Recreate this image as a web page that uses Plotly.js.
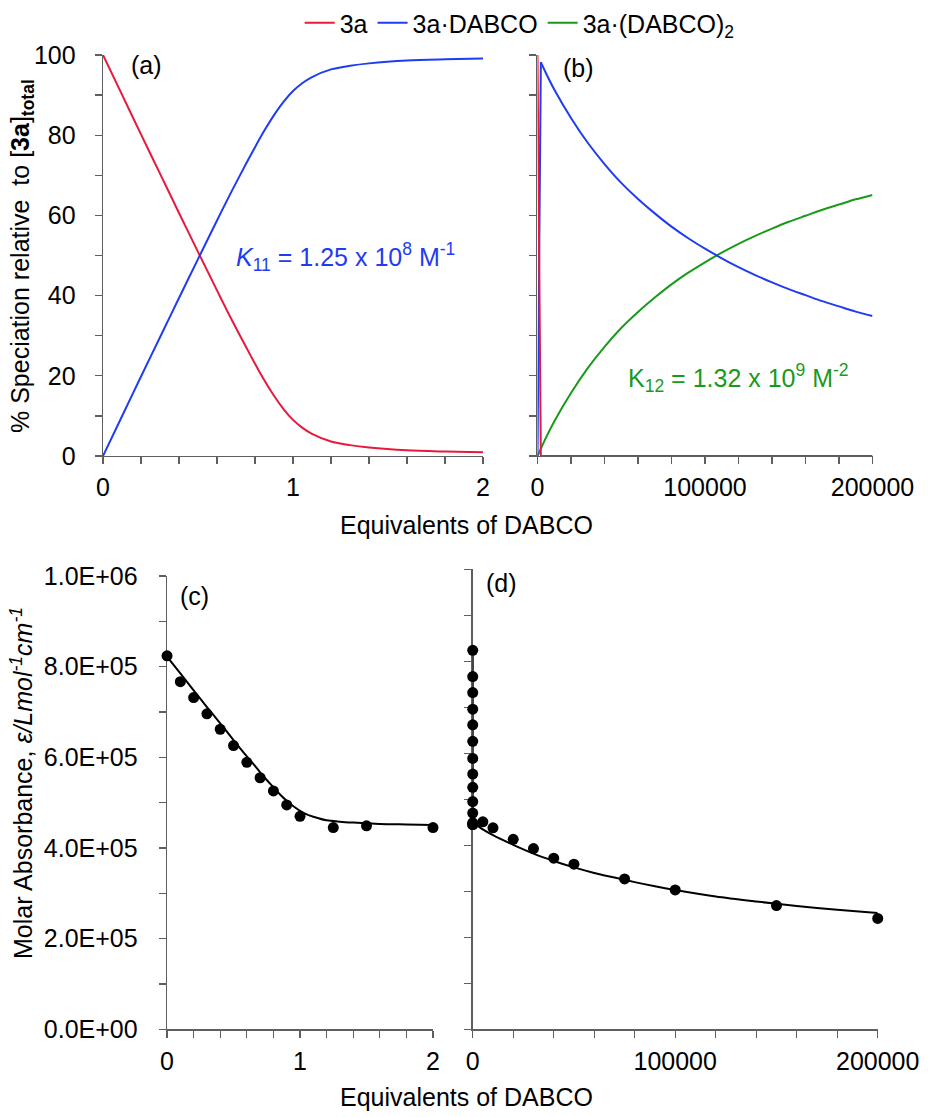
<!DOCTYPE html>
<html>
<head>
<meta charset="utf-8">
<script src="https://cdn.plot.ly/plotly-3.0.1.min.js"></script>
<style>html,body{margin:0;padding:0;background:#fff;}#chart{width:928px;height:1117px;}</style>
</head>
<body>
<div id="chart"></div>
<script>
// ---- Panel (a): speciation vs equivalents (0-2) ----
const eqA = [0,0.1,0.2,0.3,0.4,0.5,0.6,0.65,0.7,0.75,0.8,0.85,0.9,0.95,1.0,1.05,1.1,1.2,1.3,1.4,1.6,1.8,2.0];
const freeA = [100,90.1,80.2,70.4,60.6,50.9,41.3,36.5,31.9,27.4,23.0,18.8,15.0,11.7,9.0,7.0,5.5,3.6,2.7,2.1,1.4,1.1,0.9];
const complexA = [0,9.9,19.8,29.6,39.4,49.1,58.7,63.5,68.1,72.6,77.0,81.2,85.0,88.3,91.0,93.0,94.5,96.4,97.3,97.9,98.6,98.9,99.1];

// ---- Panel (b): speciation vs equivalents (0-200000) ----
const eqB = [0,2000,5000,10000,20000,30000,40000,50000,60000,70000,80000,90000,100000,110000,120000,130000,140000,150000,160000,170000,180000,190000,200000];
const freeB = [100,0,0,0,0,0,0,0,0,0,0,0,0,0,0,0,0,0,0,0,0,0,0];
const complexB = [0,98.2,95.5,91.4,84.3,78.1,72.8,68.1,64.1,60.5,57.2,54.3,51.7,49.3,47.1,45.1,43.3,41.6,40.1,38.6,37.3,36.0,34.9];
const complex2B = [0,1.8,4.5,8.6,15.7,21.9,27.2,31.9,35.9,39.5,42.8,45.7,48.3,50.7,52.9,54.9,56.7,58.4,59.9,61.4,62.7,64.0,65.1];

// ---- Panel (c): molar absorbance, experimental + fit (0-2 eq) ----
const eqC = [0,0.1,0.2,0.3,0.4,0.5,0.6,0.7,0.8,0.9,1.0,1.25,1.5,2.0];
const epsC = [824000,767000,732000,696000,662000,626000,589000,555000,526000,495000,470000,445000,449000,445000];
const fitEqC = [0,0.1,0.2,0.3,0.4,0.5,0.6,0.65,0.7,0.75,0.8,0.85,0.9,0.95,1.0,1.05,1.1,1.2,1.3,1.4,1.6,1.8,2.0];
const fitEpsC = [822000,785000,748000,711000,675000,638000,602000,585000,567000,550000,534000,518000,504000,492000,482000,474000,469000,461000,458000,456000,453000,452000,451000];

// ---- Panel (d): molar absorbance, high equivalents ----
const eqDextra = [5000,10000,20000,30000,40000,50000,75000,100000,150000,200000];
const epsDextra = [451000,438000,413000,393000,372000,359000,327000,303000,269000,241000];
const fitEqD = [0,2,5000,10000,20000,30000,40000,50000,60000,70000,80000,90000,100000,120000,140000,160000,180000,200000];
const fitEpsD = [822000,451000,434500,422000,401000,382000,366000,352000,340000,330000,320000,311000,303000,289000,278000,268000,260000,253000];

// ---- tick values / labels ----
const pctMajor = [0,20,40,60,80,100];
const pctMajorLabels = ['0','20','40','60','80','100'];
const pctAll = [0,10,20,30,40,50,60,70,80,90,100];
const eqSmallMajor = [0,1,2];
const eqSmallLabels = ['0','1','2'];
const eqLargeMajor = [0,100000,200000];
const eqLargeLabels = ['0','100000','200000'];
const epsMajor = [0,200000,400000,600000,800000,1000000];
const epsLabels = ['0.0E+00','2.0E+05','4.0E+05','6.0E+05','8.0E+05','1.0E+06'];
const epsAll = [0,100000,200000,300000,400000,500000,600000,700000,800000,900000,1000000];

const RED = '#e8193c', BLUE = '#1f3cf2', GREEN = '#1a9a1a';
const FONT = 'Arial, "Liberation Sans", sans-serif';
const AX = '#5f5f5f';

function line(x, y, color, xa, ya, shape) {
  return {x: x, y: y, type: 'scatter', mode: 'lines', line: {color: color, width: 2, shape: shape || 'linear', smoothing: 0.8},
          xaxis: xa, yaxis: ya, showlegend: false, cliponaxis: false, hoverinfo: 'skip'};
}
function legendOnly(color, name) {
  return {x: [null], y: [null], type: 'scatter', mode: 'lines', line: {color: color, width: 2}, name: name,
          xaxis: 'x2', yaxis: 'y2', showlegend: true};
}

const traces = [
  line(eqA, freeA, RED, 'x', 'y', 'spline'),
  line(eqA, complexA, BLUE, 'x', 'y', 'spline'),
  // panel (b): initial rise/fall segment (first two samples) linear, rest smooth
  line(eqB.slice(0, 2), complex2B.slice(0, 2), GREEN, 'x2', 'y2'),
  line(eqB.slice(1), complex2B.slice(1), GREEN, 'x2', 'y2', 'spline'),
  line(eqB.slice(0, 2), complexB.slice(0, 2), BLUE, 'x2', 'y2'),
  line(eqB.slice(1), complexB.slice(1), BLUE, 'x2', 'y2', 'spline'),
  line(eqB, freeB, RED, 'x2', 'y2'),
  legendOnly(RED, '3a'),
  legendOnly(BLUE, '3a·DABCO'),
  legendOnly(GREEN, '3a·(DABCO)<sub>2</sub>'),
  // panel (c)
  line(fitEqC, fitEpsC, '#000', 'x3', 'y3', 'spline'),
  {x: eqC, y: epsC, type: 'scatter', mode: 'markers', marker: {color: '#000', size: 11}, xaxis: 'x3', yaxis: 'y3',
   showlegend: false, cliponaxis: false},
  // panel (d)
  line(fitEqD.slice(0, 2), fitEpsD.slice(0, 2), '#000', 'x4', 'y4'),
  line(fitEqD.slice(1), fitEpsD.slice(1), '#000', 'x4', 'y4', 'spline'),
  {x: eqC.concat(eqDextra), y: epsC.concat(epsDextra), type: 'scatter', mode: 'markers', marker: {color: '#000', size: 11},
   xaxis: 'x4', yaxis: 'y4', showlegend: false, cliponaxis: false}
];

function axis(domain, anchor, range, tv, tt, minorDtick, standoff, showLabels) {
  const a = {domain: domain, anchor: anchor, range: range, tickmode: 'array', tickvals: tv,
             ticks: 'outside', ticklen: 7, tickwidth: 1.3, tickcolor: AX, showline: true, linecolor: AX, linewidth: 1.4,
             showgrid: false, zeroline: false, layer: 'below traces', tickfont: {size: 25, color: '#000'},
             ticklabelstandoff: standoff, fixedrange: true, showticklabels: showLabels};
  if (showLabels) a.ticktext = tt;
  if (minorDtick) a.minor = {dtick: minorDtick, tick0: 0, ticks: 'outside', ticklen: 7, tickwidth: 1.3, tickcolor: AX, showgrid: false};
  return a;
}

function ann(x, y, text, extra) {
  return Object.assign({xref: 'paper', yref: 'paper', x: x, y: y, text: text, showarrow: false,
                        xanchor: 'center', yanchor: 'middle', font: {size: 25, color: '#000'}}, extra || {});
}

const layout = {
  width: 928, height: 1117,
  margin: {l: 0, r: 0, t: 0, b: 0},
  paper_bgcolor: '#fff', plot_bgcolor: 'rgba(0,0,0,0)',
  font: {family: FONT, size: 25, color: '#000'},
  showlegend: true,
  legend: {orientation: 'h', x: 0.56, xanchor: 'center', y: 1.0, yanchor: 'top', font: {size: 25},
           bgcolor: 'rgba(0,0,0,0)', traceorder: 'normal'},
  xaxis: axis([0.1110, 0.5205], 'y', [0, 2], eqSmallMajor, eqSmallLabels, 0.2, 2, true),
  yaxis: axis([0.5918, 0.9508], 'x', [0, 100], pctMajor, pctMajorLabels, 10, 14, true),
  xaxis2: axis([0.5792, 0.9402], 'y2', [0, 200000], eqLargeMajor, eqLargeLabels, 20000, 2, true),
  yaxis2: axis([0.5918, 0.9508], 'x2', [0, 100], pctAll, null, null, 0, false),
  xaxis3: axis([0.1800, 0.4666], 'y3', [0, 2], eqSmallMajor, eqSmallLabels, 0.2, 2, true),
  yaxis3: axis([0.0785, 0.4843], 'x3', [0, 1000000], epsMajor, epsLabels, 100000, 16, true),
  xaxis4: axis([0.5094, 0.9458], 'y4', [0, 200000], eqLargeMajor, eqLargeLabels, 20000, 2, true),
  yaxis4: axis([0.0785, 0.4903], 'x4', [0, 1000000], epsAll, null, null, 0, false),
  annotations: [
    ann(0.1584, 0.9418, '(a)'),
    ann(0.6239, 0.9391, '(b)'),
    ann(0.2101, 0.4664, '(c)'),
    ann(0.5399, 0.4781, '(d)'),
    ann(0.3728, 0.7699, '<i>K</i><sub>11</sub> = 1.25 x 10<sup>8</sup> M<sup>-1</sup>', {font: {size: 25, color: BLUE}}),
    ann(0.7953, 0.6616, 'K<sub>12</sub> = 1.32 x 10<sup>9</sup> M<sup>-2</sup>', {font: {size: 25, color: GREEN}}),
    ann(0.0237, 0.7708, '% Speciation relative  to [<b>3a</b>]<sub><b>total</b></sub>', {textangle: -90}),
    ann(0.0237, 0.299, 'Molar Absorbance, <i>ε/Lmol<sup>-1</sup>cm<sup>-1</sup></i>', {textangle: -90}),
    ann(0.5022, 0.530, 'Equivalents of DABCO'),
    ann(0.5022, 0.0179, 'Equivalents of DABCO')
  ]
};

Plotly.newPlot('chart', traces, layout, {displayModeBar: false, staticPlot: true});
</script>
</body>
</html>
